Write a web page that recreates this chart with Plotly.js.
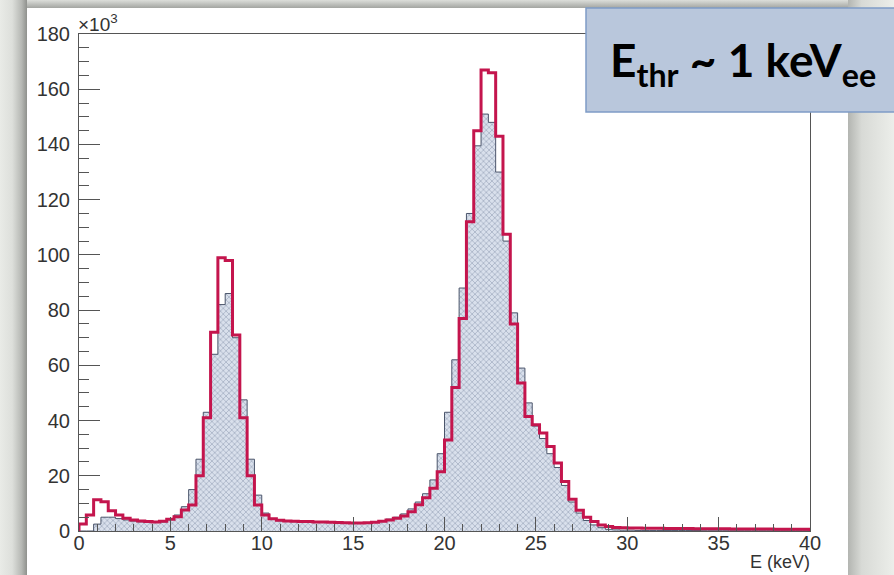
<!DOCTYPE html>
<html><head><meta charset="utf-8">
<script src="https://cdn.plot.ly/plotly-3.0.1.min.js"></script>
<style>
html,body{margin:0;padding:0;width:894px;height:575px;overflow:hidden;background:#e7e9e5;}
#left{position:absolute;left:0;top:0;width:27px;height:575px;background:linear-gradient(to right,#e9ebe7 0%,#dddfdb 45%,#b6b8b4 80%,#8f918d 100%);}
#top{position:absolute;left:27px;top:0;width:821px;height:8px;background:linear-gradient(to bottom,#dcdeda 0%,#a3a5a1 100%);}
#panel{position:absolute;left:27px;top:8px;width:821px;height:567px;background:#ffffff;}
#right{position:absolute;left:848px;top:0;width:46px;height:575px;background:linear-gradient(to right,#b3b5b1 0%,#d8dad6 30%,#eceeea 100%);}
#chart{position:absolute;left:0;top:0;width:894px;height:575px;}
</style></head>
<body>
<div id="left"></div><div id="top"></div><div id="right"></div><div id="panel"></div>
<div id="chart"></div>
<script>
// ---- data (counts in units of 10^3), 100 bins of 0.4 keV from 0 to 40 keV ----
const binWidth = 0.4;
const xStart = 0;
const redCounts = [
  2.5, 5.8, 11.3, 10.6, 7.3, 5.8, 4.6, 4.0, 3.6, 3.4,
  3.3, 3.5, 4.3, 5.2, 7.6, 9.4, 20, 41, 72, 99,
  98, 71, 41, 20, 9.4, 5.8, 4.4, 3.9, 3.6, 3.5,
  3.4, 3.4, 3.3, 3.3, 3.2, 3.1, 3.0, 2.9, 2.9, 3.0,
  3.2, 3.5, 4.0, 4.6, 5.4, 7.0, 9.5, 12, 15.5, 21.5,
  33, 52, 77, 112, 145, 167, 166, 143, 107.5, 75,
  53.6, 41.5, 38.5, 35.5, 30.6, 24.6, 17.9, 11.5, 7.5, 5.0,
  3.4, 2.2, 1.6, 1.3, 1.2, 1.1, 1.1, 1.0, 1.0, 1.0,
  0.9, 0.9, 0.9, 0.9, 0.8, 0.8, 0.8, 0.8, 0.8, 0.7,
  0.7, 0.7, 0.7, 0.7, 0.7, 0.6, 0.6, 0.6, 0.6, 0.6
];
const grayCounts = [
  0, 0, 2.5, 5.0, 5.0, 4.5, 4.0, 3.6, 3.3, 3.1,
  3.1, 3.3, 4.3, 5.8, 8.8, 15, 26, 43, 64, 82,
  86, 70, 47.5, 26, 13, 6.5, 4.4, 3.7, 3.5, 3.4,
  3.3, 3.3, 3.2, 3.2, 3.1, 3.0, 2.9, 2.9, 2.9, 3.0,
  3.3, 3.7, 4.3, 5.0, 6.2, 8.0, 10.5, 13.5, 18.5, 28,
  43, 62, 88, 115, 139.5, 151, 148, 130, 105, 79,
  59, 46.4, 38, 33.5, 28, 23, 16.5, 10.5, 6.5, 3.8,
  2.2, 1.2, 0.6, 0.4, 0.3, 0.3, 0.2, 0.2, 0.2, 0.2,
  0.2, 0.2, 0.2, 0.2, 0.2, 0.1, 0.1, 0.1, 0.1, 0.1,
  0.1, 0.1, 0.1, 0.1, 0.1, 0.1, 0.1, 0.1, 0.1, 0.1
];
const yTickVals = [0, 20, 40, 60, 80, 100, 120, 140, 160, 180];
const xTickVals = [0, 5, 10, 15, 20, 25, 30, 35, 40];

// histogram step arrays
function stepXY(counts){
  const xs = [xStart], ys = [0];
  counts.forEach((c, i) => { xs.push(xStart + i * binWidth); ys.push(c); });
  xs.push(xStart + counts.length * binWidth); ys.push(counts[counts.length - 1]);
  xs.push(xStart + counts.length * binWidth); ys.push(0);
  return {xs, ys};
}
const g = stepXY(grayCounts), r = stepXY(redCounts);

// plot area in pixels
const L = 79, R = 810, T = 34, B = 531, W = 894, H = 575;
const px = p => (p - L) / (R - L);
const py = p => (B - p) / (B - T);

const traces = [
  {x: g.xs, y: g.ys, type: 'scatter', mode: 'lines', line: {shape: 'hv', color: '#4b556b', width: 1},
   fill: 'tozeroy', fillcolor: '#d3dbe8',
   fillpattern: {shape: 'x', fgcolor: '#8e99b0', bgcolor: '#d9e0ec', size: 4, solidity: 0.25},
   hoverinfo: 'skip'},
  {x: r.xs, y: r.ys, type: 'scatter', mode: 'lines', line: {shape: 'hv', color: '#c4154d', width: 3},
   hoverinfo: 'skip'}
];

const tickFont = {family: 'Liberation Sans, Arial, sans-serif', size: 20, color: '#333333'};
const layout = {
  width: W, height: H,
  margin: {l: L, r: W - R, t: T, b: H - B, pad: 0},
  paper_bgcolor: 'rgba(0,0,0,0)', plot_bgcolor: 'rgba(0,0,0,0)',
  showlegend: false,
  xaxis: {range: [0, 40], tickvals: xTickVals, ticks: 'inside', ticklen: 14, tickwidth: 1, tickcolor: '#555',
          minor: {dtick: 1, ticks: 'inside', ticklen: 7, tickcolor: '#555', showgrid: false},
          showline: true, linecolor: '#555', linewidth: 1, mirror: true, showgrid: false, zeroline: false,
          tickfont: tickFont, ticklabelstandoff: -6},
  yaxis: {range: [0, 180], tickvals: yTickVals, ticks: 'inside', ticklen: 21, tickwidth: 1, tickcolor: '#555',
          minor: {dtick: 5, ticks: 'inside', ticklen: 10, tickcolor: '#555', showgrid: false},
          showline: true, linecolor: '#555', linewidth: 1, mirror: true, showgrid: false, zeroline: false,
          tickfont: tickFont, ticklabelstandoff: 4},
  shapes: [
    {type: 'rect', xref: 'paper', yref: 'paper', x0: px(586), x1: px(900), y0: py(112), y1: py(8),
     fillcolor: '#b9c7dc', line: {color: '#7f9cc6', width: 1.5}, layer: 'above'}
  ],
  annotations: [
    {xref: 'paper', yref: 'paper', x: px(743), y: py(63), xanchor: 'center', yanchor: 'middle', showarrow: false,
     text: '<b>E<sub>thr</sub> ~ 1 keV<sub>ee</sub></b>', font: {family: 'Lato, Open Sans, sans-serif', size: 46, color: '#000'}},
    {xref: 'paper', yref: 'paper', x: 0, y: 1, xanchor: 'left', yanchor: 'bottom', xshift: -3, yshift: -3, showarrow: false,
     text: '×10<sup>3</sup>', font: {family: 'Liberation Sans, Arial, sans-serif', size: 19, color: '#333'}},
    {xref: 'paper', yref: 'paper', x: 1, y: 0, xanchor: 'right', yanchor: 'top', yshift: -19, xshift: 2, showarrow: false,
     text: 'E (keV)', font: {family: 'Liberation Sans, Arial, sans-serif', size: 18, color: '#333'}}
  ]
};
Plotly.newPlot('chart', traces, layout, {displayModeBar: false, staticPlot: true});
</script>
</body></html>
